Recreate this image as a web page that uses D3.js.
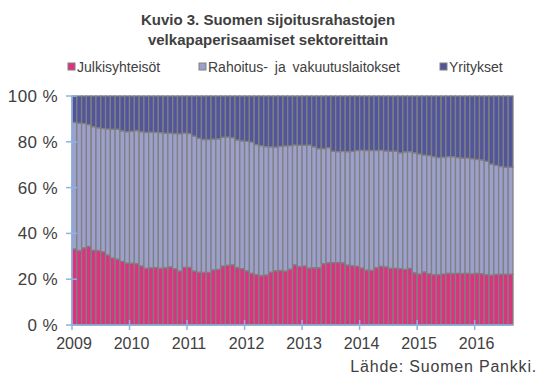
<!DOCTYPE html>
<html>
<head>
<meta charset="utf-8">
<script src="https://cdn.jsdelivr.net/npm/d3@7"></script>
<style>
  body { margin: 0; background: #fff; }
  svg { display: block; font-family: "Liberation Sans", Arial, sans-serif; }
</style>
</head>
<body>
<div id="chart"></div>
<script>
// monthly shares (%), Jan 2009 - Aug 2016
const julkisyhteisot = [
  33.2, 32.5, 33.7, 34.3, 32.6, 32.5, 32.0, 30.6, 29.3, 28.8, 27.8, 27.1,
  27.0, 26.8, 25.8, 24.8, 25.0, 25.1, 24.8, 25.0, 25.4, 24.6, 23.6, 25.2,
  25.2, 23.6, 23.1, 23.0, 23.0, 24.1, 24.3, 25.8, 26.1, 26.3, 25.1, 24.6,
  23.7, 22.6, 22.0, 21.6, 21.9, 23.1, 23.7, 23.8, 23.6, 24.4, 26.3, 25.5,
  25.8, 24.9, 25.0, 25.0, 26.8, 27.2, 27.3, 27.3, 27.2, 26.2, 25.9, 25.7,
  24.9, 24.0, 23.9, 25.0, 25.6, 25.4, 24.8, 24.8, 24.6, 24.3, 24.7, 22.8,
  22.3, 23.2, 22.4, 22.0, 22.0, 22.3, 22.6, 22.5, 22.6, 22.5, 22.6, 22.4,
  22.6, 22.4, 22.0, 21.8, 22.1, 22.2, 22.2, 22.2
];
const rahoitus = [
  55.3, 55.7, 54.3, 53.2, 54.0, 53.6, 53.8, 55.0, 56.2, 56.7, 57.0, 57.3,
  57.6, 58.1, 58.6, 59.3, 59.2, 59.0, 59.2, 58.8, 58.4, 59.0, 59.9, 58.6,
  58.4, 58.9, 58.5, 58.0, 58.0, 57.1, 57.0, 56.2, 56.0, 55.5, 55.7, 55.8,
  56.5, 57.3, 56.8, 56.7, 56.0, 54.7, 54.0, 54.2, 54.6, 53.9, 52.3, 53.0,
  52.7, 53.7, 52.8, 52.0, 50.2, 50.2, 48.6, 48.4, 48.6, 49.5, 49.9, 50.5,
  51.4, 52.2, 52.3, 51.2, 50.7, 50.6, 51.1, 51.1, 50.6, 51.3, 51.0, 52.4,
  52.4, 51.0, 51.6, 51.5, 51.1, 51.0, 50.9, 51.0, 50.5, 50.4, 50.3, 50.2,
  49.7, 49.7, 49.5, 48.5, 47.6, 47.0, 46.7, 46.7
];
const yritykset = [
  11.5, 11.8, 12.0, 12.5, 13.4, 13.9, 14.2, 14.4, 14.5, 14.5, 15.2, 15.6,
  15.4, 15.1, 15.6, 15.9, 15.8, 15.9, 16.0, 16.2, 16.2, 16.4, 16.5, 16.2,
  16.4, 17.5, 18.4, 19.0, 19.0, 18.8, 18.7, 18.0, 17.9, 18.2, 19.2, 19.6,
  19.8, 20.1, 21.2, 21.7, 22.1, 22.2, 22.3, 22.0, 21.8, 21.7, 21.4, 21.5,
  21.5, 21.4, 22.2, 23.0, 23.0, 22.6, 24.1, 24.3, 24.2, 24.3, 24.2, 23.8,
  23.7, 23.8, 23.8, 23.8, 23.7, 24.0, 24.1, 24.1, 24.8, 24.4, 24.3, 24.8,
  25.3, 25.8, 26.0, 26.5, 26.9, 26.7, 26.5, 26.5, 26.9, 27.1, 27.1, 27.4,
  27.7, 27.9, 28.5, 29.7, 30.3, 30.8, 31.1, 31.1
];
const seriesNames = ["Julkisyhteisöt", "Rahoitus- ja vakuutuslaitokset", "Yritykset"];
const yearLabels = ["2009", "2010", "2011", "2012", "2013", "2014", "2015", "2016"];
const yTicks = [0, 20, 40, 60, 80, 100];

const colors = ["#dc327f", "#9ca0cc", "#50559c"];
const textColor = "#404040";
const axisColor = "#8db4e2";

const width = 546, height = 383;
const margin = { top: 96, right: 33, bottom: 58, left: 72 };

const months = d3.timeMonth.range(new Date(2009, 0, 1), new Date(2016, 8, 1));
const rows = months.map((m, i) => ({
  month: m,
  [seriesNames[0]]: julkisyhteisot[i],
  [seriesNames[1]]: rahoitus[i],
  [seriesNames[2]]: yritykset[i],
}));

const svg = d3.select("#chart").append("svg")
  .attr("width", width)
  .attr("height", height);

const x = d3.scaleBand()
  .domain(d3.range(months.length))
  .range([margin.left, width - margin.right])
  .padding(0);

const y = d3.scaleLinear()
  .domain([0, 100])
  .range([height - margin.bottom, margin.top]);

const stack = d3.stack().keys(seriesNames);
const layers = stack(rows);

// bars
svg.append("g")
  .selectAll("g")
  .data(layers)
  .join("g")
  .attr("fill", (d, i) => colors[i])
  .selectAll("rect")
  .data(d => d)
  .join("rect")
  .attr("x", (d, i) => x(i))
  .attr("width", x.bandwidth())
  .attr("y", d => y(d[1]))
  .attr("height", d => y(d[0]) - y(d[1]))
  .attr("stroke", "#808080")
  .attr("stroke-width", 1.3);

// y axis
const yAxis = svg.append("g").attr("transform", `translate(${margin.left},0)`);
yAxis.append("line")
  .attr("x1", 0).attr("x2", 0)
  .attr("y1", y(0)).attr("y2", y(100))
  .attr("stroke", axisColor).attr("stroke-width", 1.5);
yAxis.selectAll("line.tick")
  .data(yTicks)
  .join("line")
  .attr("class", "tick")
  .attr("x1", -6).attr("x2", 5)
  .attr("y1", d => y(d)).attr("y2", d => y(d))
  .attr("stroke", axisColor).attr("stroke-width", 1.5);
yAxis.selectAll("text")
  .data(yTicks)
  .join("text")
  .attr("x", -14)
  .attr("y", d => y(d) + 6)
  .attr("text-anchor", "end")
  .attr("fill", textColor)
  .style("font-size", "17px")
  .style("letter-spacing", "0.4px")
  .text(d => d + " %");

// x axis
const xAxis = svg.append("g");
xAxis.append("line")
  .attr("x1", margin.left).attr("x2", width - margin.right)
  .attr("y1", y(0)).attr("y2", y(0))
  .attr("stroke", axisColor).attr("stroke-width", 1.5);
xAxis.selectAll("line.tick")
  .data(yearLabels)
  .join("line")
  .attr("class", "tick")
  .attr("x1", (d, i) => x(i * 12)).attr("x2", (d, i) => x(i * 12))
  .attr("y1", y(0) - 5).attr("y2", y(0) + 5)
  .attr("stroke", axisColor).attr("stroke-width", 1.5);
xAxis.selectAll("text")
  .data(yearLabels)
  .join("text")
  .attr("x", (d, i) => x(i * 12) + 2)
  .attr("y", y(0) + 24)
  .attr("text-anchor", "middle")
  .attr("fill", textColor)
  .style("font-size", "16px")
  .text(d => d);

// title
const title = svg.append("text")
  .attr("text-anchor", "middle")
  .attr("fill", textColor)
  .style("font-size", "15px")
  .style("font-weight", "bold");
title.append("tspan").attr("x", 268).attr("y", 25).text("Kuvio 3. Suomen sijoitusrahastojen");
title.append("tspan").attr("x", 268).attr("y", 45).text("velkapaperisaamiset sektoreittain");

// legend
const legendX = [68, 199, 440];
const legend = svg.append("g")
  .selectAll("g")
  .data(seriesNames)
  .join("g")
  .attr("transform", (d, i) => `translate(${legendX[i]},68)`);
legend.append("rect")
  .attr("x", 0).attr("y", -5)
  .attr("width", 7).attr("height", 7)
  .attr("fill", (d, i) => colors[i])
  .attr("stroke", "#808080").attr("stroke-width", 1);
legend.append("text")
  .attr("x", 9).attr("y", 4)
  .attr("fill", textColor)
  .style("font-size", "14px")
  .style("word-spacing", "3px")
  .text(d => d);

// source
svg.append("text")
  .attr("x", 537).attr("y", 372)
  .attr("text-anchor", "end")
  .attr("fill", textColor)
  .style("font-size", "16px")
  .style("letter-spacing", "0.8px")
  .text("Lähde: Suomen Pankki.");
</script>
</body>
</html>
